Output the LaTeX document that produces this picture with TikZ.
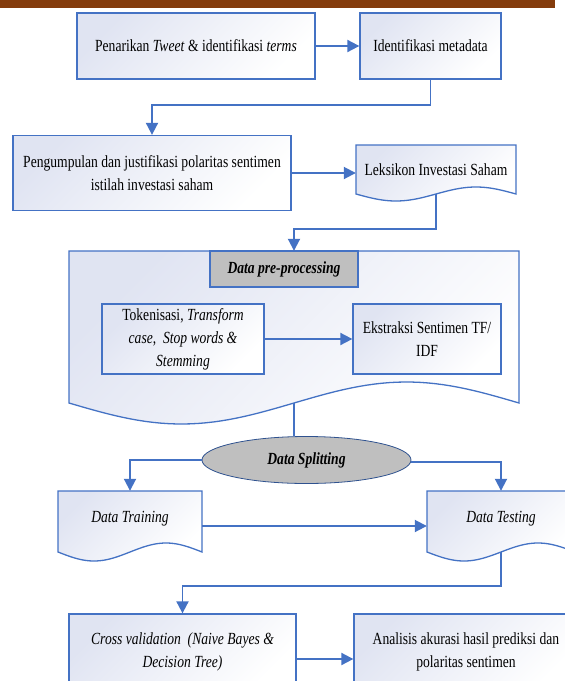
\documentclass[tikz,border=0pt]{standalone}
\usepackage{fontspec}
\setmainfont{Liberation Serif}[FakeStretch=0.8]
\usetikzlibrary{arrows.meta,shapes.geometric}

\definecolor{edge}{RGB}{68,114,196}
\definecolor{tint}{RGB}{224,228,242}
\definecolor{bar}{RGB}{132,60,12}
\definecolor{greyfill}{RGB}{191,191,191}
\definecolor{ovaledge}{RGB}{47,82,143}

\tikzset{
  txt/.style={font=\fontsize{17}{23}\selectfont, align=center, text=black},
  procbox/.style={txt, draw=edge, line width=1.3pt, top color=tint, bottom color=white, shading angle=45, inner sep=0pt},
  area/.style={txt, inner sep=0pt},
  docline/.style={draw=edge, line width=1.3pt, top color=tint, bottom color=white, shading angle=45},
  greybox/.style={txt, draw=edge, line width=1.3pt, fill=greyfill, inner sep=0pt},
  conn/.style={draw=edge, line width=1.9pt},
  arr/.style={conn, -{Triangle[length=12pt,width=12pt]}},
}

% document symbol: left, top, right, mid-line of the wavy bottom, wave amplitude
\newcommand\docoutline[5]{%
  \path[docline] (#1,#4) -- (#1,#2) -- (#3,#2) -- (#3,#4)
    -- plot[domain=360:0, samples=60] ({#1+(#3-#1)*(\x/360)},{#4+#5*sin(\x)}) -- cycle;}

\begin{document}
\begin{tikzpicture}[x=1pt,y=-1pt]
\clip (0,0) rectangle (565,681);
\fill[bar] (0,0) rectangle (555,7.5);

% row 1
\node[procbox, minimum width=238pt, minimum height=66pt] (pull) at (196,46)
  {Penarikan \textit{Tweet} \& identifikasi \textit{terms}};
\node[procbox, minimum width=141pt, minimum height=66pt] (meta) at (430.5,46)
  {Identifikasi metadata};

% row 2
\node[procbox, minimum width=278pt, minimum height=75pt] (collect) at (152,173)
  {Pengumpulan dan justifikasi polaritas sentimen\\ istilah investasi saham};
\docoutline{356}{145}{516}{194}{7}
\node[area, minimum width=160pt, minimum height=49pt] (lex) at (436,169.5)
  {Leksikon Investasi Saham};

% pre-processing block
\docoutline{69}{251}{519}{403}{21}
\node[area, minimum width=450pt, minimum height=152pt] (prep) at (294,327) {};
\node[greybox, minimum width=148pt, minimum height=36pt] (preptitle) at (284,269)
  {\textbf{\textit{Data pre-processing}}};
\node[procbox, minimum width=162pt, minimum height=70pt] (tok) at (183,339)
  {Tokenisasi, \textit{Transform}\\ \textit{case},\ \ \textit{Stop words \&}\\ \textit{Stemming}};
\node[procbox, minimum width=148pt, minimum height=70pt] (tfidf) at (427,339)
  {Ekstraksi Sentimen TF/\\ IDF};

% splitting
\node[ellipse, draw=ovaledge, line width=0.8pt, fill=greyfill, minimum width=209pt,
  minimum height=47pt, inner sep=0pt, txt] (split) at (306.5,460)
  {\textbf{\textit{Data Splitting}}};

\docoutline{58}{491}{202}{552}{9}
\node[area, minimum width=144pt, minimum height=56pt] (train) at (130,519)
  {\textit{Data Training}};
\docoutline{427}{491}{575}{552}{9}
\node[area, minimum width=148pt, minimum height=56pt] (test) at (501,519)
  {\textit{Data Testing}};
\coordinate (trainfoot) at (130,552);
\coordinate (testfoot) at (501,552);

% last row
\node[procbox, minimum width=227pt, minimum height=76pt] (cv) at (182.5,652)
  {\textit{Cross validation\ \ (Naive Bayes \&}\\ \textit{Decision Tree)}};
\node[procbox, minimum width=224pt, minimum height=76pt] (acc) at (466,652)
  {Analisis akurasi hasil prediksi dan\\ polaritas sentimen};

% connectors
\draw[arr] (pull.east) -- (meta.west);
\draw[arr] (meta.south) -- ++(0,25) -| (collect.north);
\draw[arr] (collect.east) -- (collect.east -| lex.west);
\draw[arr] (lex.south) -- ++(0,35) -| (prep.north);
\draw[arr] (tok.east) -- (tfidf.west);
\draw[conn] (prep.south) -- (prep.south |- split.north);
\draw[arr] (split.west) -| (train.north);
\draw[arr] ([yshift=-2pt]split.east) -| (test.north);
\draw[arr] ([yshift=-7pt]train.east) -- ([yshift=-7pt]train.east -| test.west);
\draw[arr] (testfoot) -- ++(0,34) -| (cv.north);
\draw[arr] ([yshift=-7pt]cv.east) -- ([yshift=-7pt]cv.east -| acc.west);
\end{tikzpicture}
\end{document}
